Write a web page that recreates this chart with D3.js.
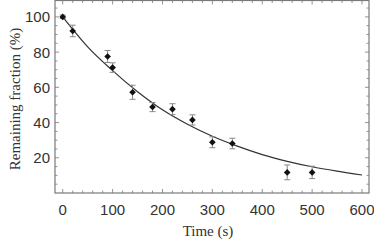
<!DOCTYPE html>
<html>
<head>
<meta charset="utf-8">
<script src="https://cdn.jsdelivr.net/npm/d3@7"></script>
<style>
  body { margin: 0; background: #fff; }
  svg { display: block; }
</style>
</head>
<body>
<div id="chart"></div>
<script>
// measured points
var times = [0, 20, 90, 100, 140, 180, 220, 260, 300, 340, 450, 500];
var fractions = [100, 92, 77.5, 71.2, 57.2, 48.8, 47.6, 41.5, 28.8, 28.1, 11.7, 11.7];
var errors = [1, 3.3, 3.4, 2.7, 4, 2.6, 3.1, 2.9, 3.1, 3, 4.2, 3.5];
// fitted curve
var fitTimes = [0, 50, 100, 150, 200, 250, 300, 350, 400, 450, 500, 550, 600];
var fitValues = [100, 83, 69.5, 57.5, 47.2, 39, 32.2, 26.6, 21.8, 18, 14.9, 12.4, 10.2];
var xTicks = [0, 100, 200, 300, 400, 500, 600];
var yTicks = [20, 40, 60, 80, 100];

function drawChart(divname){
    var W = 374, H = 242;
    var pLeft = 55, pRight = 369, pTop = 0.5, pBottom = 193;

    var svg = d3.select("#" + divname).append("svg")
        .attr("width", W)
        .attr("height", H);

    var x = d3.scaleLinear().domain([-15.5, 614]).range([pLeft, pRight]);
    var y = d3.scaleLinear().domain([0, 109.3]).range([pBottom, pTop]);

    var frameColor = "#7a7a7a";

    // minor ticks on all four sides, inside
    var xMinor = d3.range(0, 601, 20);
    var yMinor = d3.range(5, 106, 5);

    var g = svg.append("g");
    g.selectAll(".xb").data(xMinor).enter().append("line")
        .attr("x1", function(d){ return x(d); })
        .attr("x2", function(d){ return x(d); })
        .attr("y1", pBottom)
        .attr("y2", function(d){ return d % 100 == 0 ? pBottom - 4 : pBottom - 2.5; })
        .attr("stroke", frameColor).attr("stroke-width", 0.8);
    g.selectAll(".xt").data(xMinor).enter().append("line")
        .attr("x1", function(d){ return x(d); })
        .attr("x2", function(d){ return x(d); })
        .attr("y1", pTop)
        .attr("y2", function(d){ return d % 100 == 0 ? pTop + 4 : pTop + 2.5; })
        .attr("stroke", frameColor).attr("stroke-width", 0.8);
    g.selectAll(".yl").data(yMinor).enter().append("line")
        .attr("y1", function(d){ return y(d); })
        .attr("y2", function(d){ return y(d); })
        .attr("x1", pLeft)
        .attr("x2", function(d){ return d % 20 == 0 ? pLeft + 4 : pLeft + 2.5; })
        .attr("stroke", frameColor).attr("stroke-width", 0.8);
    g.selectAll(".yr").data(yMinor).enter().append("line")
        .attr("y1", function(d){ return y(d); })
        .attr("y2", function(d){ return y(d); })
        .attr("x1", pRight)
        .attr("x2", function(d){ return d % 20 == 0 ? pRight - 4 : pRight - 2.5; })
        .attr("stroke", frameColor).attr("stroke-width", 0.8);

    // frame
    svg.append("rect")
        .attr("x", pLeft).attr("y", pTop)
        .attr("width", pRight - pLeft).attr("height", pBottom - pTop)
        .attr("fill", "none")
        .attr("stroke", frameColor)
        .attr("stroke-width", 1.2);

    // tick labels
    svg.selectAll(".xlab").data(xTicks).enter().append("text")
        .attr("x", function(d){ return x(d); })
        .attr("y", 215)
        .attr("text-anchor", "middle")
        .style("font-family", "Liberation Sans, Arial, sans-serif")
        .style("font-size", "15px")
        .style("fill", "#333")
        .text(function(d){ return d; });
    svg.selectAll(".ylab").data(yTicks).enter().append("text")
        .attr("x", 50)
        .attr("y", function(d){ return y(d); })
        .attr("dy", "0.36em")
        .attr("text-anchor", "end")
        .style("font-family", "Liberation Sans, Arial, sans-serif")
        .style("font-size", "15px")
        .style("fill", "#333")
        .text(function(d){ return d; });

    // axis titles
    svg.append("text")
        .attr("x", 208).attr("y", 236)
        .attr("text-anchor", "middle")
        .style("font-family", "Liberation Serif, Times New Roman, serif")
        .style("font-size", "15px")
        .style("fill", "#333")
        .text("Time (s)");
    svg.append("text")
        .attr("transform", "translate(20,99) rotate(-90)")
        .attr("text-anchor", "middle")
        .style("font-family", "Liberation Serif, Times New Roman, serif")
        .style("font-size", "15px")
        .style("fill", "#333")
        .text("Remaining fraction (%)");

    // fit curve
    var fit = fitTimes.map(function(t, i){ return [t, fitValues[i]]; });
    var line = d3.line()
        .x(function(d){ return x(d[0]); })
        .y(function(d){ return y(d[1]); })
        .curve(d3.curveMonotoneX);
    svg.append("path")
        .datum(fit)
        .attr("d", line)
        .attr("fill", "none")
        .attr("stroke", "#333")
        .attr("stroke-width", 1.2);

    // error bars
    var pts = times.map(function(t, i){ return {t: t, v: fractions[i], e: errors[i]}; });
    var eb = svg.selectAll(".eb").data(pts).enter().append("g");
    eb.append("line")
        .attr("x1", function(d){ return x(d.t); })
        .attr("x2", function(d){ return x(d.t); })
        .attr("y1", function(d){ return y(d.v - d.e); })
        .attr("y2", function(d){ return y(d.v + d.e); })
        .attr("stroke", "#888").attr("stroke-width", 1);
    eb.selectAll(".cap").data(function(d){ return [[d.t, d.v - d.e], [d.t, d.v + d.e]]; })
        .enter().append("line")
        .attr("x1", function(d){ return x(d[0]) - 3; })
        .attr("x2", function(d){ return x(d[0]) + 3; })
        .attr("y1", function(d){ return y(d[1]); })
        .attr("y2", function(d){ return y(d[1]); })
        .attr("stroke", "#888").attr("stroke-width", 1);

    // diamond markers
    svg.selectAll(".pt").data(pts).enter().append("path")
        .attr("transform", function(d){ return "translate(" + x(d.t) + "," + y(d.v) + ") rotate(45)"; })
        .attr("d", d3.symbol().type(d3.symbolSquare).size(22))
        .attr("fill", "#111");
}
drawChart("chart");
</script>
</body>
</html>
